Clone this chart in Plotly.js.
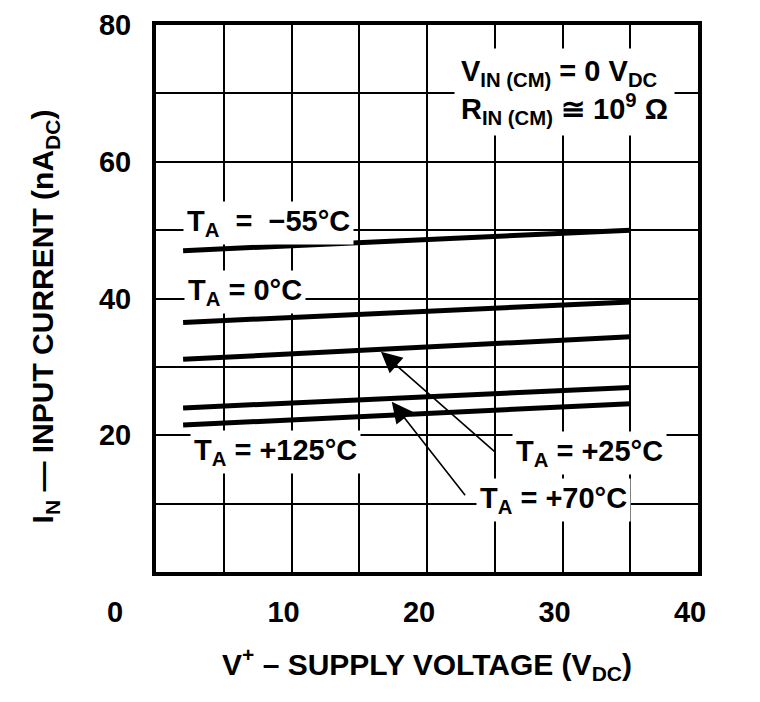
<!DOCTYPE html>
<html>
<head>
<meta charset="utf-8">
<script src="https://cdn.plot.ly/plotly-3.0.1.min.js"></script>
<style>html,body{margin:0;padding:0;background:#fff}#chart{width:760px;height:702px}</style>
</head>
<body>
<div id="chart"></div>
<script>
// Supply voltage endpoints (V DC)
var supplyVoltage = [2, 35];
// Input current (nA DC) per ambient temperature
var currentMinus55 = [47.0, 50.0];
var current0 = [36.5, 39.5];
var current25 = [31.1, 34.4];
var current70 = [24.0, 27.0];
var current125 = [21.5, 24.6];
var seriesNames = ['T_A = −55°C', 'T_A = 0°C', 'T_A = +25°C', 'T_A = +70°C', 'T_A = +125°C'];
var xTickVals = [10, 20, 30, 40];
var xTickText = ['10', '20', '30', '40'];
var yTickVals = [20, 40, 60, 80];
var yTickText = ['20', '40', '60', '80'];

var FONT = '"Liberation Sans", Arial, Helvetica, sans-serif';
var allSeries = [currentMinus55, current0, current25, current70, current125];
var traces = allSeries.map(function (ys, i) {
  return {
    x: supplyVoltage, y: ys, name: seriesNames[i], type: 'scatter', mode: 'lines',
    line: {color: '#000', width: 5}, showlegend: false, hoverinfo: 'skip'
  };
});

function lbl(text, x, y) {
  return {text: text, x: x, y: y, xref: 'x', yref: 'y', xanchor: 'left', yanchor: 'middle',
    showarrow: false, bgcolor: '#fff', borderpad: 3};
}
function arrow(x, y, ax, ay) {
  return {text: '', x: x, y: y, ax: ax, ay: ay, xref: 'x', yref: 'y', axref: 'x', ayref: 'y',
    showarrow: true, arrowhead: 2, arrowsize: 2.6, arrowwidth: 1.6, arrowcolor: '#000', standoff: 0};
}

var annotations = [
  lbl('T<sub>A</sub>\u00a0 = \u00a0−55°C', 2.0, 51.0),
  lbl('T<sub>A</sub> = 0°C', 2.1, 41.0),
  lbl('T<sub>A</sub> = +125°C', 2.5, 17.6),
  lbl('T<sub>A</sub> = +25°C', 26.3, 17.4),
  lbl('T<sub>A</sub> = +70°C', 23.6, 10.6),
  {text: 'V<sub>IN (CM)</sub> = 0 V<sub>DC</sub><br>R<sub>IN (CM)</sub> ≅ 10<sup>9</sup> Ω', x: 22.0, y: 70.2,
   xref: 'x', yref: 'y', xanchor: 'left', yanchor: 'middle', align: 'left', showarrow: false,
   bgcolor: '#fff', borderpad: 6},
  arrow(16.6, 32.2, 25.1, 17.4),
  arrow(17.4, 24.9, 22.9, 11.0),
  {text: '0', x: 0, y: 0, xref: 'x', yref: 'y', showarrow: false, xshift: -41, yshift: -40},
  // y-axis title, placed to match the reference's vertical offset
  {text: 'I<sub>N</sub> — INPUT CURRENT (nA<sub>DC</sub>)', textangle: -90, xref: 'paper', yref: 'paper',
   x: -0.205, y: 0.467, xanchor: 'center', yanchor: 'middle', showarrow: false, font: {size: 30}}
];

var layout = {
  width: 760, height: 702,
  margin: {l: 156, r: 62, t: 25, b: 130},
  paper_bgcolor: '#fff', plot_bgcolor: '#fff',
  font: {family: FONT, weight: 'bold', color: '#000', size: 29},
  xaxis: {
    range: [0, 40], tickvals: xTickVals, ticktext: xTickText, ticks: '',
    showgrid: true, gridcolor: '#000', gridwidth: 2,
    minor: {dtick: 5, showgrid: true, gridcolor: '#000', gridwidth: 2},
    showline: true, linecolor: '#000', linewidth: 4, mirror: true,
    zeroline: false, ticklabelstandoff: 11, ticklabelshift: -8,
    title: {text: 'V<sup>+</sup> – SUPPLY VOLTAGE (V<sub>DC</sub>)', font: {size: 30}, standoff: 28}
  },
  yaxis: {
    range: [0, 80], tickvals: yTickVals, ticktext: yTickText, ticks: '',
    showgrid: true, gridcolor: '#000', gridwidth: 2,
    minor: {dtick: 10, showgrid: true, gridcolor: '#000', gridwidth: 2},
    showline: true, linecolor: '#000', linewidth: 4, mirror: true,
    zeroline: false, ticklabelstandoff: 15
  },
  annotations: annotations
};

Plotly.newPlot('chart', traces, layout, {staticPlot: true, displayModeBar: false});
</script>
</body>
</html>
